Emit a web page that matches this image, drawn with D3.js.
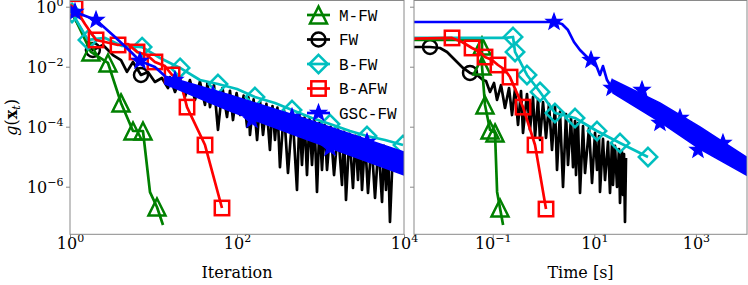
<!DOCTYPE html>
<html><head><meta charset="utf-8">
<script src="https://cdn.jsdelivr.net/npm/d3@7"></script>
<style>html,body{margin:0;padding:0;background:#fff;} svg{display:block;}</style>
</head><body>
<svg id="chart" width="748" height="285"></svg>
<script>
// ---------------- DATA ----------------
const legendLabels = ["M-FW", "FW", "B-FW", "B-AFW", "GSC-FW"];
const xTicksIter = [1, 1e2, 1e4];
const xTicksTime = [1e-1, 1e1, 1e3];
const yTicks = [1, 1e-2, 1e-4, 1e-6];

// Left panel: gap vs iteration
const mfwIt    = [1, 1.78, 2.85, 4.08, 5.68, 7.48, 9.08, 11.0, 13.0];
const mfwItGap = [0.9, 0.031, 0.0133, 6.2e-4, 7.2e-5, 7.2e-5, 6.6e-7, 2.1e-7, 5.3e-8];
const mfwItMarks = [1, 2, 3, 4, 5, 7];

const fwIt = [1, 1.88, 2.48, 3.27, 4.08, 4.81, 5.68, 7.08, 8.59, 10.4, 12.6, 14.9,
  15.7, 18.1, 20.8, 23.8, 27.3, 31.4, 36, 41.4, 44.3, 47.5, 53, 59.2, 67, 75.9, 82.4, 89.5,
  98.8, 109, 120, 132, 137, 143, 158, 174, 189, 205, 225, 248, 266, 285, 305, 327, 365, 408,
  462, 523, 560, 600, 643, 689, 738, 791, 847, 908, 973, 1042, 1117, 1197, 1318, 1452, 1620,
  1809, 1911, 2020, 2224, 2449, 2624, 2812, 2972, 3141, 3412, 3706, 4082, 4496, 4952, 5455,
  5762, 6086, 6430, 6793, 7380];
const fwItGap = [0.78, 0.036, 0.053, 0.0245, 0.0167, 6.7e-3, 0.0144, 5.3e-3, 6.7e-3, 3.1e-3, 4.2e-3, 1.95e-3,
  4.5e-3, 1.44e-3, 4.0e-3, 9.8e-4, 3.6e-3, 7.8e-4, 3.2e-3, 5.3e-4, 2.95e-3, 4.5e-4, 2.45e-3, 7.8e-5,
  1.94e-3, 2.1e-4, 1.58e-3, 1.67e-4, 1.32e-3, 2.45e-4, 1.08e-3, 9.8e-5, 9.5e-4, 5.3e-5, 8.2e-4, 3.6e-5,
  6.9e-4, 5.3e-5, 5.8e-4, 1.67e-5, 4.9e-4, 3.6e-5, 4.3e-4, 4.5e-6, 3.6e-4, 2.9e-6, 2.8e-4, 7.8e-7,
  2.3e-4, 5.3e-6, 2.0e-4, 2.45e-6, 1.76e-4, 5.3e-6, 1.53e-4, 6.7e-7, 1.34e-4, 3.6e-6, 1.16e-4, 3.6e-6,
  9.9e-5, 2.45e-6, 8.0e-5, 1.14e-6, 6.8e-5, 3.6e-7, 5.8e-5, 9.1e-7, 5.0e-5, 1.67e-6, 4.4e-5, 7.8e-7,
  3.8e-5, 6.2e-7, 3.2e-5, 4.2e-7, 2.6e-5, 3.1e-7, 2.3e-5, 7.8e-7, 2.0e-5, 6.7e-8, 1.9e-5];
const fwItMarks = [1, 7];

const bfwIt    = [1, 1.057, 1.64, 2.63, 4.2, 7.3, 12.0, 20.8, 36.0, 59.2, 100, 164, 285, 456, 791, 1300, 2256, 3606, 5920, 9730];
const bfwItGap = [0.78, 0.62, 0.078, 0.091, 0.049, 0.045, 0.0195, 9.1e-3, 3.6e-3, 2.65e-3, 1.8e-3, 9.8e-4, 6.2e-4, 3.6e-4, 1.95e-4, 1.23e-4, 7.2e-5, 4.9e-5, 3.6e-5, 2.45e-5];
const bfwItMarks = [1, 2, 5, 7, 9, 11, 13, 15, 17, 19];

const bafwIt    = [1, 1.148, 1.51, 2.05, 2.63, 3.76, 4.95, 6.35, 8.36, 10.4, 13.7, 16.7, 20.8, 25.2, 41.4, 66.1];
const bafwItGap = [1.14, 0.9, 0.265, 0.078, 0.0665, 0.053, 0.057, 0.031, 0.0245, 0.0144, 0.0105, 5.3e-3, 3.6e-3, 4.5e-4, 2.45e-5, 1.95e-7];
const bafwItMarks = [1, 3, 5, 7, 9, 11, 13, 14, 15];

const gscIt    = [1, 1.148, 2.05, 3.46, 5.53, 6.89, 10.4, 13.7];
const gscItGap = [1.05, 0.665, 0.36, 0.098, 0.0286, 0.0155, 9.8e-3, 4.9e-3];
const gscItBand   = [13.7, 82.5, 568, 10000];
const gscItBandHi = [4.9e-3, 1.14e-3, 2.1e-4, 1.44e-5];
const gscItBandLo = [2.65e-3, 3.3e-4, 4.5e-5, 2.45e-6];
const gscItStar    = [1.148, 2.05, 6.89, 18.1, 51.6, 151, 456, 1300, 3606];
const gscItStarGap = [0.665, 0.36, 0.0155, 3.6e-3, 1.14e-3, 1.67e-4, 2.1e-4, 1.95e-5, 3.1e-5];

// Right panel: gap vs time [s]
const mfwTm    = [1e-3, 0.0615, 0.0615, 0.0615, 0.0705, 0.0885, 0.111, 0.122, 0.139, 0.16];
const mfwTmGap = [0.078, 0.078, 0.049, 0.0105, 5.3e-4, 7.8e-5, 6.2e-5, 6.7e-7, 1.95e-7, 5.3e-8];
const mfwTmMarks = [2, 3, 4, 5, 6, 8];

const fwTm = [1e-3, 5.83e-3, 9.18e-3, 0.0126, 0.0198, 0.026, 0.0357, 0.049, 0.0644,
  0.0738, 0.0885, 0.106, 0.1216, 0.1456, 0.1746, 0.2094, 0.2398, 0.2748, 0.3148, 0.3606, 0.3948,
  0.4732, 0.542, 0.6209, 0.6808, 0.7798, 0.8531, 0.9776, 1.12, 1.283, 1.469, 1.683, 1.845, 2.113,
  2.421, 2.773, 3.035, 3.477, 3.811, 4.169, 4.365, 4.775, 5.231, 5.992, 6.561, 7.87, 9.016, 10.32,
  11.3, 12.38, 12.94, 14.83, 16.24, 18.61, 20.37, 22.28, 23.33, 25.55, 27.98, 30.62, 32.06, 35.08,
  36.73, 38.46, 40.18, 42.07];
const fwTmGap = [0.0454, 0.0454, 0.042, 0.031, 0.0144, 9.1e-3, 6.2e-3, 5.3e-3, 3.6e-3,
  3.34e-3, 1.44e-3, 2.86e-3, 7.8e-4, 2.45e-3, 4.2e-4, 1.95e-3, 2.45e-4, 1.8e-3, 1.14e-4, 1.55e-3, 6.2e-5,
  1.23e-3, 7.8e-5, 9.8e-4, 4.5e-5, 8.4e-4, 3.6e-5, 6.65e-4, 4.2e-5, 5.7e-4, 1.67e-5, 4.9e-4, 3.6e-6,
  3.1e-4, 9.8e-7, 2.65e-4, 5.3e-6, 1.95e-4, 4.5e-6, 1.55e-4, 2.45e-6, 1.33e-4, 6.2e-7, 1.05e-4, 2.86e-6,
  9.1e-5, 1.33e-6, 6.2e-5, 3.6e-6, 4.9e-5, 6.65e-7, 3.9e-5, 1.67e-6, 3.1e-5, 6.2e-7, 2.65e-5, 1.14e-6,
  2.28e-5, 9.8e-7, 1.8e-5, 2.86e-7, 1.44e-5, 5.3e-7, 1.23e-5, 6.65e-8, 9.1e-6];
const fwTmMarks = [1, 6];

const bfwTm    = [1e-3, 0.175, 0.251, 0.275, 0.473, 0.853, 1.68, 4.17, 11.3, 32.1, 114];
const bfwTmGap = [0.091, 0.091, 0.098, 0.031, 5.3e-3, 1.44e-3, 2.86e-4, 1.95e-4, 7.2e-5, 2.86e-5, 9.8e-6];
const bfwTmMarks = [2, 3, 4, 5, 6, 7, 8, 9, 10];

const bafwTm    = [1e-3, 0.0158, 0.0249, 0.0392, 0.0562, 0.0705, 0.0969, 0.127, 0.175, 0.219, 0.395, 0.681, 1.12];
const bafwTmGap = [0.0838, 0.091, 0.0665, 0.042, 0.031, 0.021, 0.0167, 0.0114, 7.8e-3, 4.5e-3, 4.5e-4, 2.45e-5, 1.8e-7];
const bafwTmMarks = [1, 3, 5, 7, 9, 10, 11, 12];

const gscTm    = [1e-3, 1.61, 2.31, 3.03, 3.98, 5.22, 7.51, 10.3, 12.9, 14.8, 17.8, 22.3];
const gscTmGap = [0.309, 0.309, 0.265, 0.167, 0.0665, 0.036, 0.0195, 0.0144, 5.3e-3, 0.0105, 3.6e-3, 1.95e-3];
const gscTmBand   = [23.3, 196, 1205, 10600];
const gscTmBandHi = [3.6e-3, 6.2e-4, 9.8e-5, 9.1e-6];
const gscTmBandLo = [1.33e-3, 1.44e-4, 1.8e-5, 2.3e-6];
const gscTmStar    = [1.61, 8.61, 22.3, 86.9, 196, 486, 1099, 3412];
const gscTmStarGap = [0.309, 0.0167, 1.95e-3, 1.67e-3, 1.33e-4, 1.95e-4, 1.67e-5, 2.86e-5];

// ---------------- STYLE ----------------
const colors = {"M-FW": "#008000", "FW": "#000000", "B-FW": "#00bfbf", "B-AFW": "#ff0000", "GSC-FW": "#0000ff"};
const markerOf = {"M-FW": "tri", "FW": "circle", "B-FW": "diam", "B-AFW": "sq", "GSC-FW": "star"};
const serif = "'DejaVu Serif', serif";
const mono = "'Liberation Mono', monospace";
const spineColor = "#8a8a8a";
const LW = 2.7;

// ---------------- LAYOUT ----------------
const W = 748, H = 285;
const plotTop = 0.5, plotBottom = 234.3;
const L = {x0: 70, x1: 404}, R = {x0: 414, x1: 747};

const svg = d3.select("#chart");
svg.append("rect").attr("width", W).attr("height", H).attr("fill", "#fff");

const y = d3.scaleLog().domain([1.61, 2.59e-8]).range([plotTop, plotBottom]);
const xIt = d3.scaleLog().domain([1, 1e4]).range([L.x0, L.x1]);
const xTm = d3.scaleLog().domain([2.82e-3, 1.014e4]).range([R.x0, R.x1]);

const defs = svg.append("defs");
[["clipL", L], ["clipR", R]].forEach(([id, p]) => {
  defs.append("clipPath").attr("id", id).append("rect")
    .attr("x", p.x0).attr("y", plotTop).attr("width", p.x1 - p.x0).attr("height", plotBottom - plotTop);
});

function drawMarker(g, cx, cy, type, color) {
  const sw = 2.5;
  if (type === "tri") {
    const s = 8.5;
    g.append("path").attr("d", `M${cx},${cy - s}L${cx + s},${cy + s}L${cx - s},${cy + s}Z`)
      .attr("fill", "none").attr("stroke", color).attr("stroke-width", sw).attr("stroke-linejoin", "miter");
  } else if (type === "circle") {
    g.append("circle").attr("cx", cx).attr("cy", cy).attr("r", 7)
      .attr("fill", "none").attr("stroke", color).attr("stroke-width", sw);
  } else if (type === "sq") {
    const s = 7.2;
    g.append("rect").attr("x", cx - s).attr("y", cy - s).attr("width", 2 * s).attr("height", 2 * s)
      .attr("fill", "none").attr("stroke", color).attr("stroke-width", sw);
  } else if (type === "diam") {
    const s = 9.2;
    g.append("path").attr("d", `M${cx},${cy - s}L${cx + s},${cy}L${cx},${cy + s}L${cx - s},${cy}Z`)
      .attr("fill", "none").attr("stroke", color).attr("stroke-width", sw);
  } else if (type === "star") {
    const Ro = 8.5, Ri = 3.6;
    let d = "";
    for (let k = 0; k < 10; k++) {
      const r = k % 2 === 0 ? Ro : Ri;
      const a = -Math.PI / 2 + k * Math.PI / 5;
      d += (k === 0 ? "M" : "L") + (cx + r * Math.cos(a)).toFixed(2) + "," + (cy + r * Math.sin(a)).toFixed(2);
    }
    g.append("path").attr("d", d + "Z").attr("fill", color).attr("stroke", color).attr("stroke-width", 1.2)
      .attr("stroke-linejoin", "miter");
  }
}

function drawLine(g, x, xs, ys, color) {
  const line = d3.line().x(d => x(d[0])).y(d => y(d[1]));
  g.append("path").datum(xs.map((v, i) => [v, ys[i]]))
    .attr("d", line).attr("fill", "none").attr("stroke", color)
    .attr("stroke-width", LW).attr("stroke-linejoin", "round").attr("stroke-linecap", "butt");
}
function drawMarks(g, x, xs, ys, idx, type, color) {
  idx.forEach(i => drawMarker(g, x(xs[i]), y(ys[i]), type, color));
}
function drawBand(g, x, xs, hi, lo, color) {
  const area = d3.area().x(d => x(d[0])).y0(d => y(d[2])).y1(d => y(d[1]));
  g.append("path").datum(xs.map((v, i) => [v, hi[i], lo[i]]))
    .attr("d", area).attr("fill", color).attr("stroke", color).attr("stroke-width", 1.5);
}

// ---------------- LEFT PANEL ----------------
const gL = svg.append("g").attr("clip-path", "url(#clipL)");
drawLine(gL, xIt, fwIt, fwItGap, colors["FW"]);
drawMarks(gL, xIt, fwIt, fwItGap, fwItMarks, markerOf["FW"], colors["FW"]);
drawLine(gL, xIt, mfwIt, mfwItGap, colors["M-FW"]);
drawMarks(gL, xIt, mfwIt, mfwItGap, mfwItMarks, markerOf["M-FW"], colors["M-FW"]);
drawLine(gL, xIt, bfwIt, bfwItGap, colors["B-FW"]);
drawMarks(gL, xIt, bfwIt, bfwItGap, bfwItMarks, markerOf["B-FW"], colors["B-FW"]);
drawLine(gL, xIt, bafwIt, bafwItGap, colors["B-AFW"]);
drawMarks(gL, xIt, bafwIt, bafwItGap, bafwItMarks, markerOf["B-AFW"], colors["B-AFW"]);
drawLine(gL, xIt, gscIt, gscItGap, colors["GSC-FW"]);
drawBand(gL, xIt, gscItBand, gscItBandHi, gscItBandLo, colors["GSC-FW"]);
drawMarks(gL, xIt, gscItStar, gscItStarGap, gscItStar.map((_, i) => i), markerOf["GSC-FW"], colors["GSC-FW"]);

// ---------------- RIGHT PANEL ----------------
const gR = svg.append("g").attr("clip-path", "url(#clipR)");
drawLine(gR, xTm, fwTm, fwTmGap, colors["FW"]);
drawMarks(gR, xTm, fwTm, fwTmGap, fwTmMarks, markerOf["FW"], colors["FW"]);
drawLine(gR, xTm, mfwTm, mfwTmGap, colors["M-FW"]);
drawMarks(gR, xTm, mfwTm, mfwTmGap, mfwTmMarks, markerOf["M-FW"], colors["M-FW"]);
drawLine(gR, xTm, bfwTm, bfwTmGap, colors["B-FW"]);
drawMarks(gR, xTm, bfwTm, bfwTmGap, bfwTmMarks, markerOf["B-FW"], colors["B-FW"]);
drawLine(gR, xTm, bafwTm, bafwTmGap, colors["B-AFW"]);
drawMarks(gR, xTm, bafwTm, bafwTmGap, bafwTmMarks, markerOf["B-AFW"], colors["B-AFW"]);
drawLine(gR, xTm, gscTm, gscTmGap, colors["GSC-FW"]);
drawBand(gR, xTm, gscTmBand, gscTmBandHi, gscTmBandLo, colors["GSC-FW"]);
drawMarks(gR, xTm, gscTmStar, gscTmStarGap, gscTmStar.map((_, i) => i), markerOf["GSC-FW"], colors["GSC-FW"]);

// ---------------- AXES ----------------
function powLabel(text, exp) {
  text.append("tspan").text("10");
  text.append("tspan").attr("dy", -7).attr("font-size", 11)
    .text(exp < 0 ? "\u2212" + (-exp) : String(exp));
}
function styleAxis(g) {
  g.select(".domain").remove();
  g.selectAll(".tick line").attr("stroke", spineColor).attr("stroke-width", 1);
  g.selectAll(".tick text").remove();
}
function xAxis(x, ticks) {
  const g = svg.append("g").attr("transform", `translate(0,${plotBottom})`)
    .call(d3.axisBottom(x).tickValues(ticks).tickSize(4).tickFormat(""));
  styleAxis(g);
  g.selectAll(".tick").each(function (d) {
    const t = d3.select(this).append("text").attr("y", 15).attr("text-anchor", "middle")
      .attr("font-family", serif).attr("font-size", 16).attr("fill", "#000");
    powLabel(t, Math.round(Math.log10(d)));
  });
}
function yAxis(xpos, labels) {
  const g = svg.append("g").attr("transform", `translate(${xpos},0)`)
    .call(d3.axisLeft(y).tickValues(yTicks).tickSize(4).tickFormat(""));
  styleAxis(g);
  if (labels) {
    g.selectAll(".tick").each(function (d) {
      const t = d3.select(this).append("text").attr("x", -6.5).attr("y", 6.2).attr("text-anchor", "end")
        .attr("font-family", serif).attr("font-size", 16).attr("fill", "#000");
      powLabel(t, Math.round(Math.log10(d)));
    });
  }
}
xAxis(xIt, xTicksIter);
xAxis(xTm, xTicksTime);
yAxis(L.x0, true);
yAxis(R.x0, false);

// spines
[L, R].forEach(p => {
  svg.append("rect").attr("x", p.x0).attr("y", plotTop).attr("width", p.x1 - p.x0).attr("height", plotBottom - plotTop)
    .attr("fill", "none").attr("stroke", spineColor).attr("stroke-width", 1);
});

// axis titles
svg.append("text").attr("x", (L.x0 + L.x1) / 2).attr("y", 278).attr("text-anchor", "middle")
  .attr("font-family", serif).attr("font-size", 16).text("Iteration");
svg.append("text").attr("x", (R.x0 + R.x1) / 2).attr("y", 278).attr("text-anchor", "middle")
  .attr("font-family", serif).attr("font-size", 16).text("Time [s]");
const yl = svg.append("text").attr("transform", `translate(16.5,${(plotTop + plotBottom) / 2}) rotate(-90)`)
  .attr("text-anchor", "middle").attr("font-family", serif).attr("font-size", 16);
yl.append("tspan").attr("font-style", "italic").text("g");
yl.append("tspan").text("(");
yl.append("tspan").attr("font-weight", "bold").text("x");
yl.append("tspan").attr("font-style", "italic").attr("font-size", 11).attr("dy", 3.5).text("t");
yl.append("tspan").attr("dy", -3.5).text(")");

// legend
const lg = svg.append("g");
legendLabels.forEach((name, i) => {
  const cy = 15 + i * 24.5;
  lg.append("line").attr("x1", 307).attr("x2", 330).attr("y1", cy).attr("y2", cy)
    .attr("stroke", colors[name]).attr("stroke-width", LW);
  drawMarker(lg, 318.5, cy, markerOf[name], colors[name]);
  lg.append("text").attr("x", 339).attr("y", cy + 5.5).attr("font-family", mono).attr("font-size", 16)
    .attr("fill", "#000").text(name);
});
</script>
</body></html>
